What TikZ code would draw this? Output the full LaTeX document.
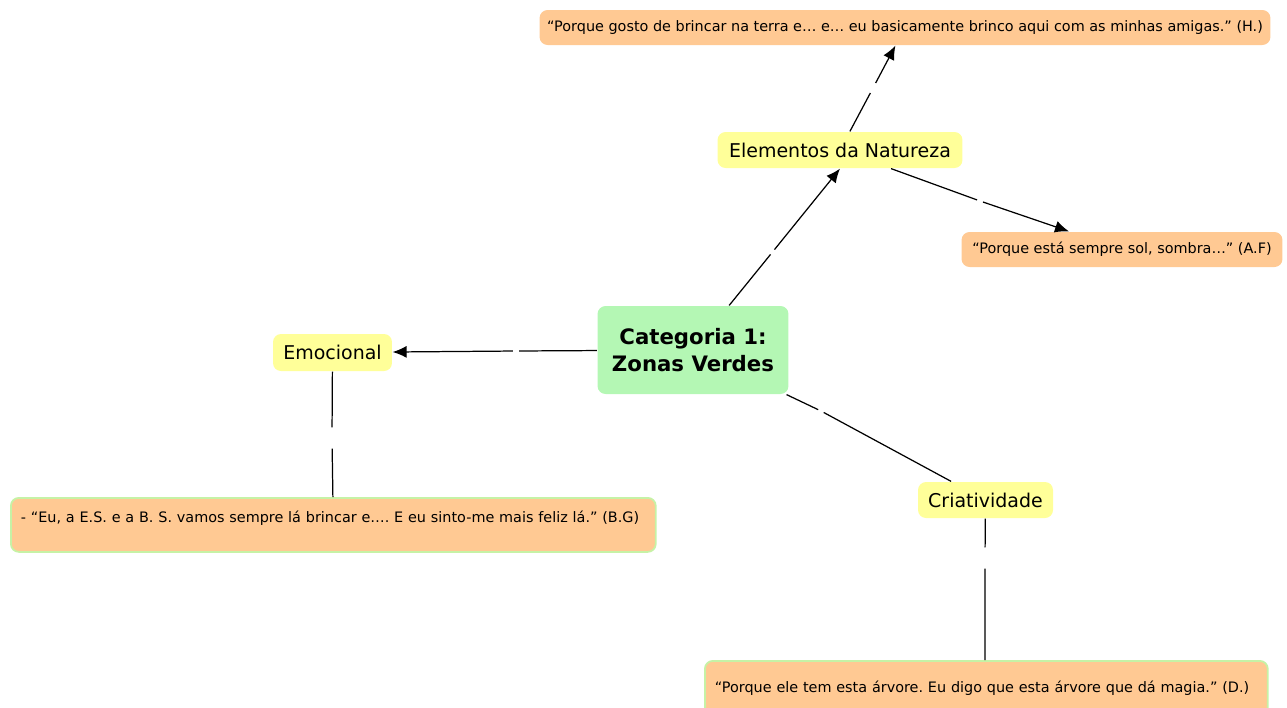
\documentclass[tikz,border=0pt]{standalone}
\usepackage{fontspec}
\setmainfont{DejaVu Sans}
\usetikzlibrary{arrows.meta}
\frenchspacing

\definecolor{quotefill}{HTML}{FFC993}
\definecolor{conceptfill}{HTML}{FFFF99}
\definecolor{mainfill}{HTML}{B4F7B4}
\definecolor{quoteedge}{HTML}{C6F2A6}

\begin{document}
\begin{tikzpicture}[x=0.02cm, y=-0.02cm, line width=0.7pt,
	concept/.style={fill=conceptfill, rounded corners=0.16cm, inner sep=0pt, font=\fontsize{10.8}{12}\selectfont, minimum height=0.72cm},
	quotebox/.style={fill=quotefill, rounded corners=0.16cm, inner sep=0pt, font=\fontsize{8.2}{10}\selectfont, minimum height=0.7cm},
	longquote/.style={quotebox, draw=quoteedge, line width=1pt, align=left, inner xsep=0.2cm},
	linkgap/.style={circle, inner sep=0pt, minimum size=#1}, linkgap/.default=0.1cm,
	arrowed/.style={-{Latex[length=2.8mm,width=2.4mm]}}]
	
	\useasboundingbox (0,0) rectangle (1287,707);
	\clip (0,0) rectangle (1287,707);
	
	% concepts
	\node [fill=mainfill, rounded corners=0.16cm, align=center, font=\bfseries\fontsize{12.1}{15}\selectfont, minimum width=3.82cm, minimum height=1.76cm] (zonas) at (693,350) {Categoria 1:\\Zonas Verdes};
	\node [concept, minimum width=4.9cm] (natureza) at (840,150) {Elementos da Natureza};
	\node [concept, minimum width=2.38cm, minimum height=0.74cm] (emocional) at (332.5,352.5) {Emocional};
	\node [concept, minimum width=2.7cm] (criatividade) at (985.5,500) {Criatividade};
	
	% quotes
	\node [quotebox, minimum width=14.62cm] (terra) at (905,27.5) {“Porque gosto de brincar na terra e… e… eu basicamente brinco aqui com as minhas amigas.” (H.)};
	\node [quotebox, minimum width=6.42cm] (sol) at (1122,249.5) {“Porque está sempre sol, sombra…” (A.F)};
	\node [longquote, anchor=north west, minimum width=12.9cm, text width=12.5cm, text height=0.5cm, text depth=0.58cm] (feliz) at (10,497) {- “Eu, a E.S. e a B. S. vamos sempre lá brincar e…. E eu sinto-me mais feliz lá.” (B.G)};
	\node [longquote, anchor=north west, minimum width=11.26cm, text width=10.86cm, text height=0.64cm, text depth=0.9cm] (magia) at (704,660) {“Porque ele tem esta árvore. Eu digo que esta árvore que dá magia.” (D.)};
	
	% empty linking phrases
	\node [linkgap] (l1) at (772.5,252) {};
	\node [linkgap=0.2cm] (l2) at (873,88) {};
	\node [linkgap] (l3) at (980,201) {};
	\node [linkgap] (l4) at (516,351) {};
	\node [linkgap=0.4cm] (l5) at (332,438) {};
	\node [linkgap] (l6) at (821,411) {};
	\node [linkgap=0.4cm] (l7) at (985,558) {};
	
	\draw (zonas) -- (l1);
	\draw [arrowed] (l1) -- (natureza.south);
	\draw (natureza) -- (l2);
	\draw [arrowed] (l2) -- (terra);
	\draw (natureza) -- (l3);
	\draw [arrowed] (l3) -- (sol);
	\draw (zonas) -- (l4);
	\draw [arrowed] (l4) -- (emocional);
	\draw (emocional) -- (l5) (l5) -- (feliz);
	\draw (zonas) -- (l6) (l6) -- (criatividade);
	\draw (criatividade) -- (l7) (l7) -- (magia.north -| l7);
	
\end{tikzpicture}
\end{document}
